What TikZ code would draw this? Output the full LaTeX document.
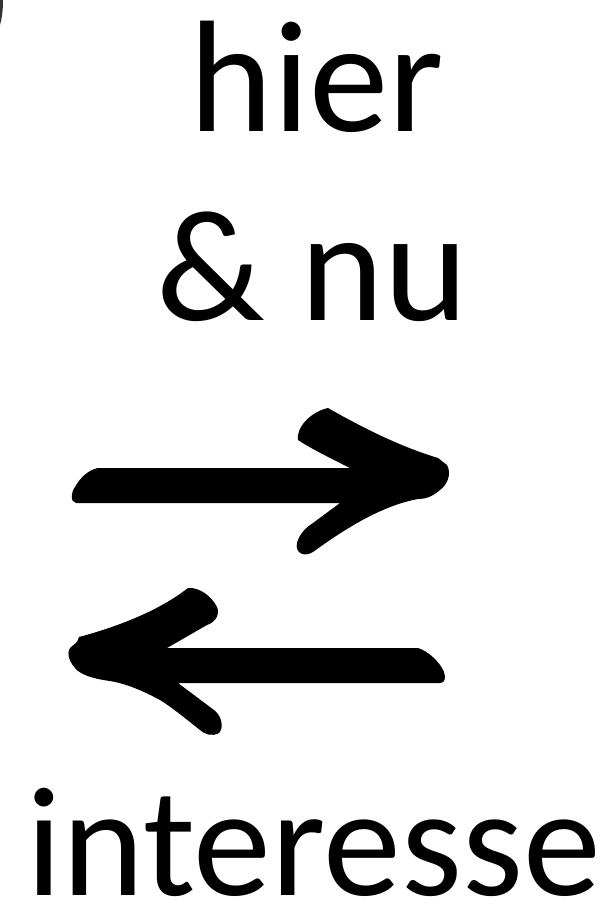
\documentclass[tikz,border=0pt]{standalone}
\usepackage{fontspec}
\setmainfont{Carlito}
\usepackage{tikz}
\usetikzlibrary{positioning}

\begin{document}
\begin{tikzpicture}[x=1pt,y=-1pt,
  word/.style={font=\fontsize{159}{159}\selectfont,inner sep=0pt,anchor=base,text depth=0pt},
  brush/.style={fill=black,draw=none}]
\useasboundingbox (0,0) rectangle (616,914);
% words
\node[word] (hier) at (317,131) {hier};
\node[word] (nu) at (312,320) {\& nu};
\node[word,font=\fontsize{156}{156}\selectfont] (interesse) at (314,895) {interesse};
% corner mark
\fill[black!80] (0,0) -- (3,0) .. controls (3,10) and (2,18) .. (0,25) -- cycle;
% arrow to the right
\path[brush] (98,468) -- (350,468)
  .. controls (330,458) and (310,448) .. (298,440)
  .. controls (296,428) and (310,412) .. (328,408)
  .. controls (370,432) and (405,448) .. (438,458)
  -- (447,465) .. controls (452,474) and (447,485) .. (440,490)
  .. controls (432,497) and (425,499) .. (418,499)
  .. controls (385,505) and (350,525) .. (313,552)
  .. controls (303,558) and (295,552) .. (297,543)
  .. controls (299,535) and (305,528) .. (313,523)
  -- (340,503) -- (76,503)
  .. controls (70,502) and (71,492) .. (75,487)
  .. controls (80,478) and (88,470) .. (98,468) -- cycle;
% arrow to the left
\path[brush] (418,648)
  .. controls (428,651) and (440,662) .. (444,672)
  .. controls (446,678) and (445,683) .. (440,683)
  -- (178,683) -- (214,710)
  .. controls (222,716) and (224,728) .. (219,733)
  .. controls (212,737) and (204,734) .. (200,730)
  .. controls (185,718) and (170,706) .. (160,700)
  .. controls (145,692) and (128,684) .. (110,681)
  .. controls (95,679) and (85,676) .. (78,671)
  .. controls (70,664) and (66,654) .. (70,648)
  -- (77,642) -- (79,637)
  .. controls (120,626) and (160,610) .. (188,588)
  .. controls (200,587) and (212,597) .. (217,607)
  .. controls (220,614) and (216,622) .. (207,625)
  -- (167,648) -- cycle;
\end{tikzpicture}
\end{document}
